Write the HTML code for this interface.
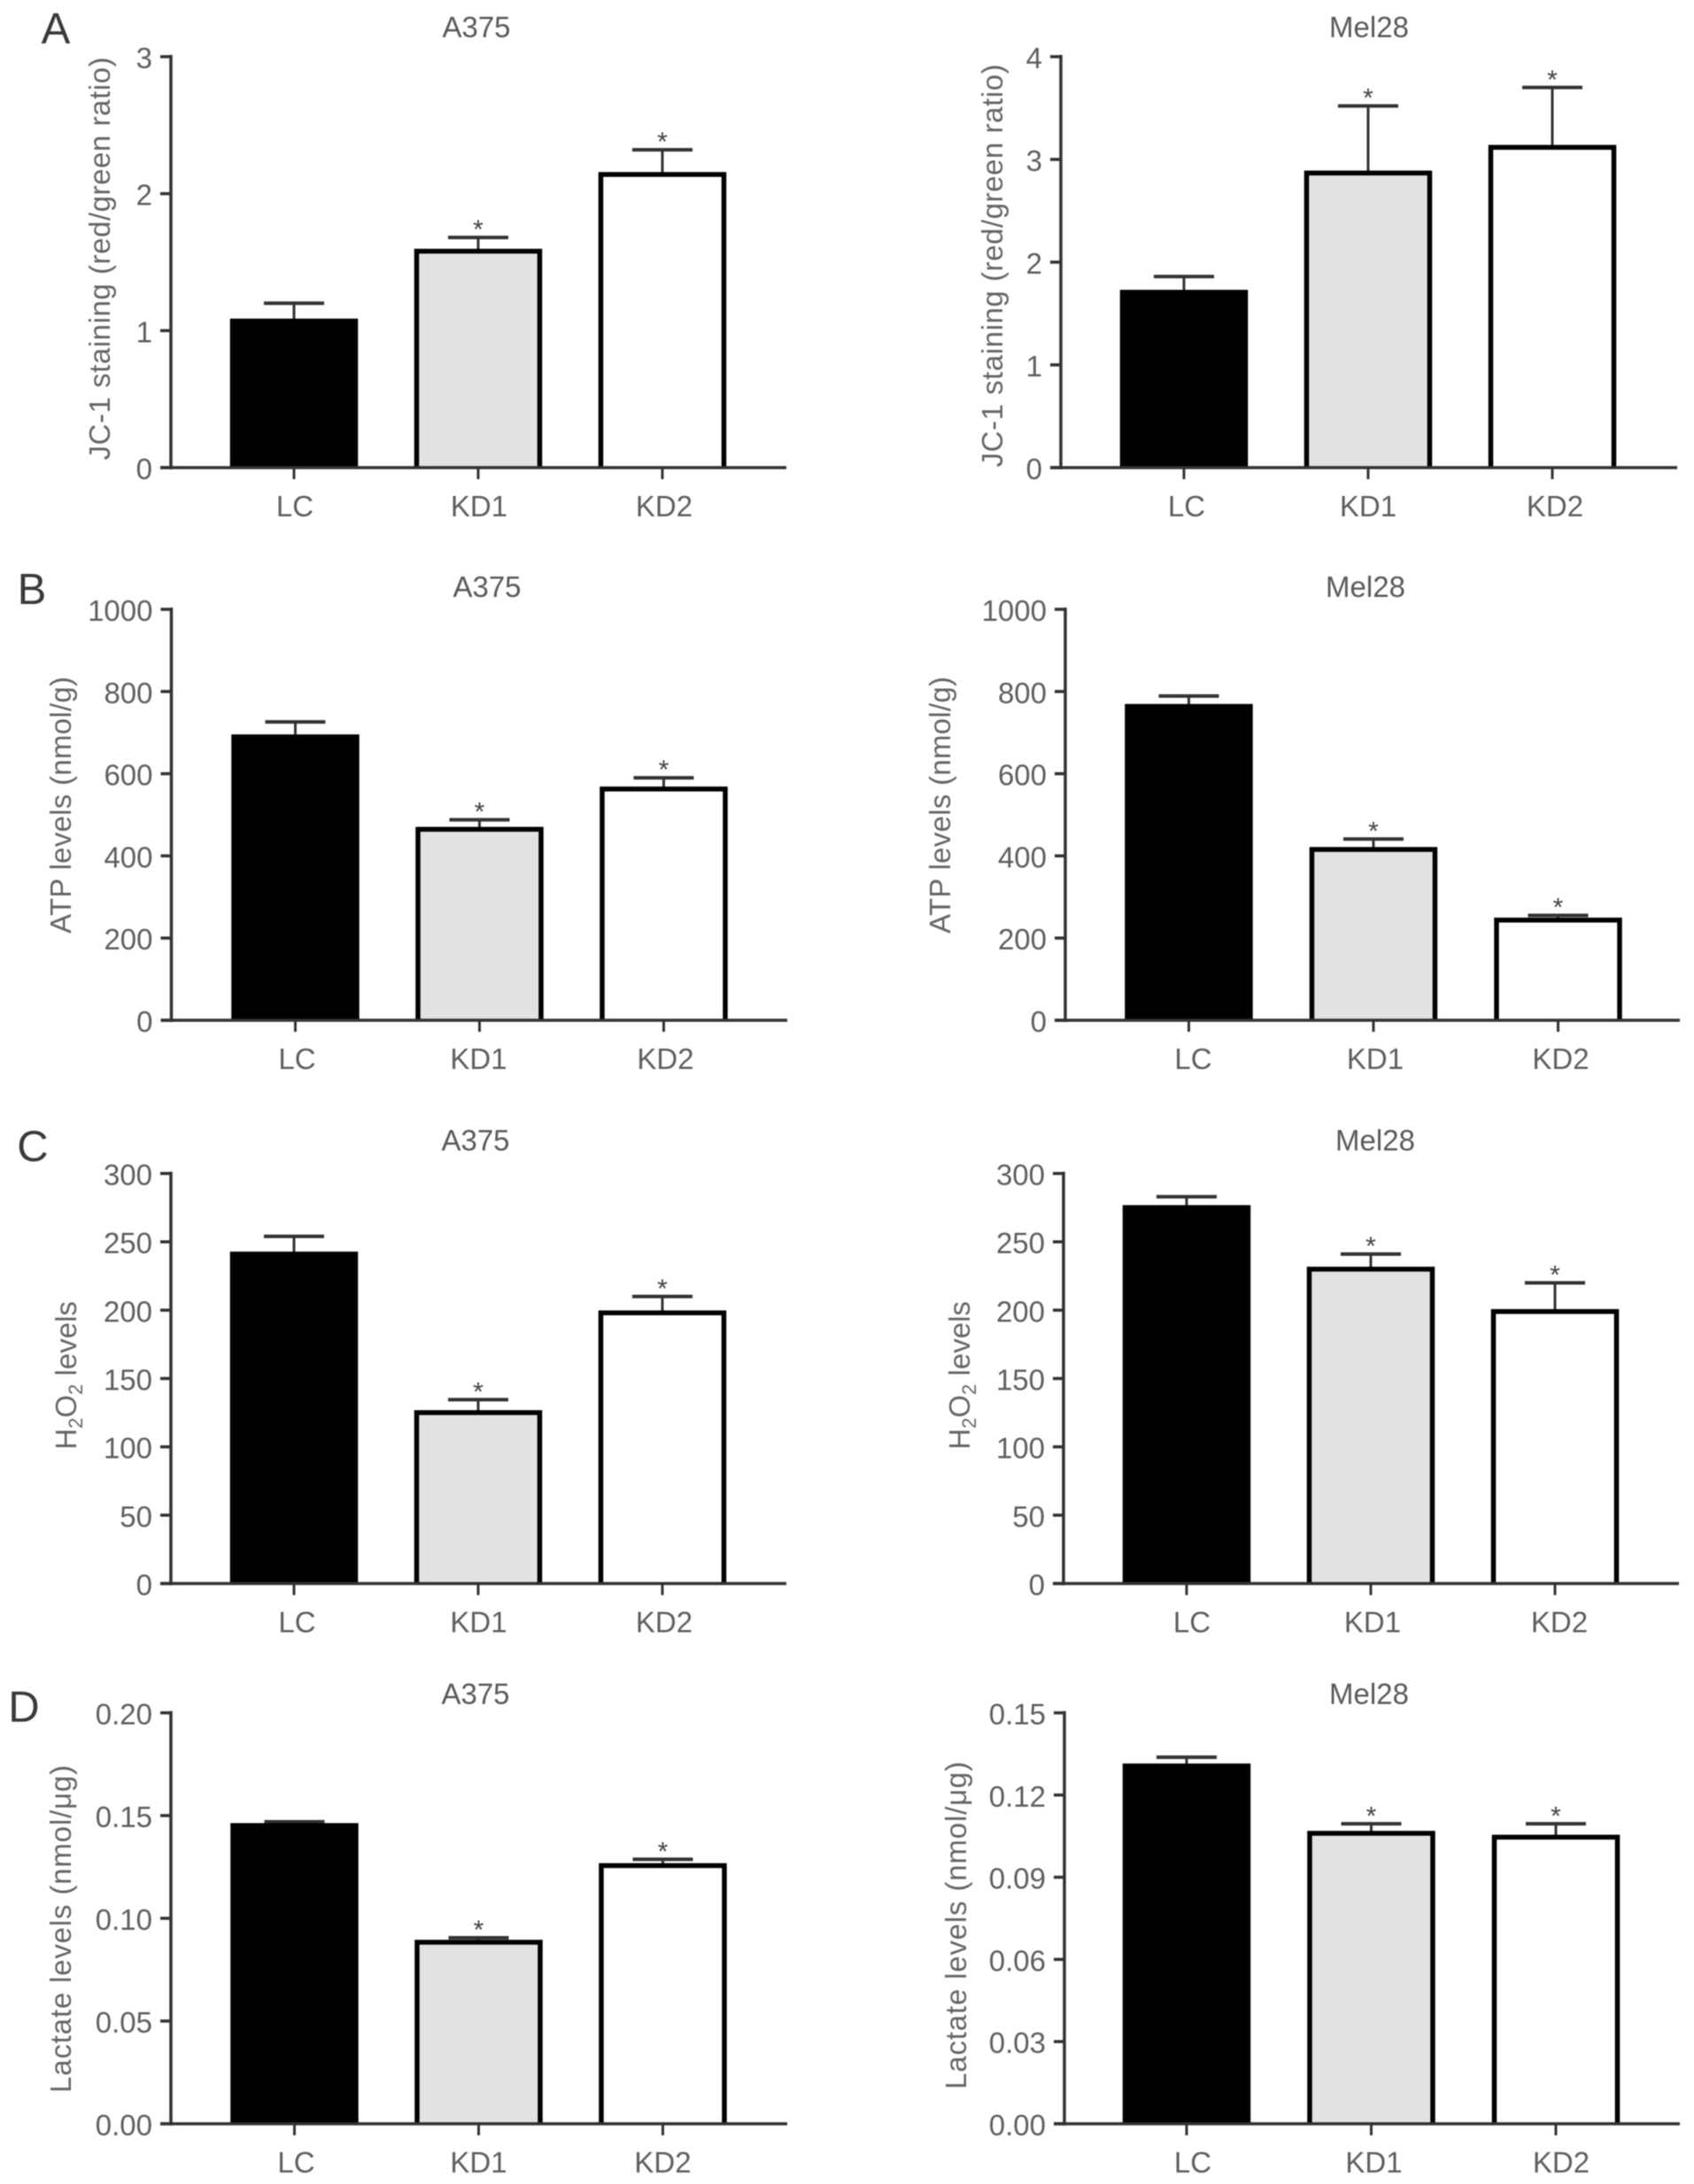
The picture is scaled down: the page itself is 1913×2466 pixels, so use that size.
<!DOCTYPE html>
<html lang="en">
<head>
<meta charset="utf-8">
<title>Mitochondrial and metabolic measurements in A375 and Mel28 cells</title>
<style>
  html, body { margin: 0; padding: 0; background: #fff; }
  #figure { display: block; width: 1913px; height: 2466px; background: #fff; filter: blur(0.6px); }
  text { font-family: "Liberation Sans", sans-serif; fill: #5a5a5a; }
  .panel-letter { font-size: 49px; fill: #3a3a3a; text-anchor: middle; }
  .panel-title { font-size: 33px; fill: #5a5a5a; text-anchor: middle; }
  .y-title { font-size: 33px; fill: #666; text-anchor: middle; }
  .tick-label { font-size: 33px; fill: #5f5f5f; }
  .star { font-size: 30px; fill: #444; text-anchor: middle; }
</style>
</head>
<body>
<svg id="figure" xmlns="http://www.w3.org/2000/svg" width="1913" height="2466" viewBox="0 0 1913 2466">
  <rect x="0" y="0" width="1913" height="2466" fill="#fff"/>

  <text class="panel-letter" x="63" y="49">A</text>
  <text class="panel-letter" x="36" y="682">B</text>
  <text class="panel-letter" x="37" y="1311">C</text>
  <text class="panel-letter" x="27" y="1944">D</text>

  <text class="panel-title" x="538" y="42">A375</text>
  <text class="panel-title" x="1546" y="42">Mel28</text>
  <text class="panel-title" x="550" y="674">A375</text>
  <text class="panel-title" x="1542" y="674">Mel28</text>
  <text class="panel-title" x="537" y="1299">A375</text>
  <text class="panel-title" x="1553" y="1299">Mel28</text>
  <text class="panel-title" x="537" y="1924">A375</text>
  <text class="panel-title" x="1546" y="1924">Mel28</text>

  <text class="y-title" transform="translate(124,292) rotate(-90)" textLength="455" lengthAdjust="spacing">JC-1 staining (red/green ratio)</text>
  <text class="y-title" transform="translate(1132,300) rotate(-90)" textLength="455" lengthAdjust="spacing">JC-1 staining (red/green ratio)</text>
  <text class="y-title" transform="translate(80,909) rotate(-90)" textLength="290" lengthAdjust="spacing">ATP levels (nmol/g)</text>
  <text class="y-title" transform="translate(1073,909) rotate(-90)" textLength="290" lengthAdjust="spacing">ATP levels (nmol/g)</text>
  <text class="y-title" transform="translate(86,1553) rotate(-90)">H<tspan font-size="22" dy="7">2</tspan><tspan dy="-7">O</tspan><tspan font-size="22" dy="7">2</tspan><tspan dy="-7"> levels</tspan></text>
  <text class="y-title" transform="translate(1095,1553) rotate(-90)">H<tspan font-size="22" dy="7">2</tspan><tspan dy="-7">O</tspan><tspan font-size="22" dy="7">2</tspan><tspan dy="-7"> levels</tspan></text>
  <text class="y-title" transform="translate(80,2178) rotate(-90)" textLength="370" lengthAdjust="spacing">Lactate levels (nmol/μg)</text>
  <text class="y-title" transform="translate(1091,2174) rotate(-90)" textLength="370" lengthAdjust="spacing">Lactate levels (nmol/μg)</text>

  <g id="chart-jc1-a375"></g>
  <g id="chart-jc1-mel28"></g>
  <g id="chart-atp-a375"></g>
  <g id="chart-atp-mel28"></g>
  <g id="chart-h2o2-a375"></g>
  <g id="chart-h2o2-mel28"></g>
  <g id="chart-lactate-a375"></g>
  <g id="chart-lactate-mel28"></g>
</svg>

<script>
// Shared categories and significance flags
const categories = ['LC', 'KD1', 'KD2'];
const significant = [false, true, true];

// Panel A: JC-1 staining
const jc1A375Ticks = ['0', '1', '2', '3'];
const jc1A375Means = [1.08, 1.59, 2.15];
const jc1A375Upper = [1.20, 1.68, 2.32];
const jc1Mel28Ticks = ['0', '1', '2', '3', '4'];
const jc1Mel28Means = [1.72, 2.88, 3.13];
const jc1Mel28Upper = [1.86, 3.52, 3.70];

// Panel B: ATP levels
const atpA375Ticks = ['0', '200', '400', '600', '800', '1000'];
const atpA375Means = [693, 468, 566];
const atpA375Upper = [726, 488, 590];
const atpMel28Ticks = ['0', '200', '400', '600', '800', '1000'];
const atpMel28Means = [767, 419, 247];
const atpMel28Upper = [789, 441, 255];

// Panel C: H2O2 levels
const h2o2A375Ticks = ['0', '50', '100', '150', '200', '250', '300'];
const h2o2A375Means = [242, 126, 199];
const h2o2A375Upper = [254, 134.5, 210];
const h2o2Mel28Ticks = ['0', '50', '100', '150', '200', '250', '300'];
const h2o2Mel28Means = [276, 231, 200];
const h2o2Mel28Upper = [283, 241, 220];

// Panel D: Lactate levels
const lactateA375Ticks = ['0.00', '0.05', '0.10', '0.15', '0.20'];
const lactateA375Means = [0.1458, 0.089, 0.1263];
const lactateA375Upper = [0.147, 0.0905, 0.1287];
const lactateMel28Ticks = ['0.00', '0.03', '0.06', '0.09', '0.12', '0.15'];
const lactateMel28Means = [0.1311, 0.1065, 0.1051];
const lactateMel28Upper = [0.1338, 0.1095, 0.1095];

const SVG_NS = 'http://www.w3.org/2000/svg';
const AXIS_COLOR = '#333';
const BAR_FILLS = ['#000000', '#e2e2e2', '#ffffff'];
const BAR_WIDTH = 139;
const BAR_STROKE = 5.5;
const BAR_TOP_INSET = 1.5;

function shape(parent, tag, attrs) {
  const el = document.createElementNS(SVG_NS, tag);
  Object.keys(attrs).forEach(function (k) { el.setAttribute(k, attrs[k]); });
  parent.appendChild(el);
  return el;
}

function drawChart(id, frame, ticks, means, upper) {
  const root = document.getElementById(id);
  const yMax = parseFloat(ticks[ticks.length - 1]);
  const yScale = function (v) { return frame.bottom - (v / yMax) * (frame.bottom - frame.top); };
  const xScale = function (i) { return frame.firstCenter + i * frame.step; };

  categories.forEach(function (cat, i) {
    const key = cat.toLowerCase();
    const cx = xScale(i);
    const stem = shape(root, 'line', { x1: cx, x2: cx, y1: yScale(means[i]), y2: yScale(upper[i]), stroke: AXIS_COLOR, 'stroke-width': 3 });
    
    
    const cap = shape(root, 'line', { x1: cx - 34, x2: cx + 34, y1: yScale(upper[i]), y2: yScale(upper[i]), stroke: AXIS_COLOR, 'stroke-width': 4 });
    
    

    const top = yScale(means[i]) + BAR_TOP_INSET;
    const left = cx - BAR_WIDTH / 2;
    const right = cx + BAR_WIDTH / 2;
    // Open outline: sides and top only; the x-axis closes the bar at its base.
    const bar = shape(root, 'path', {
      d: 'M' + left + ' ' + frame.bottom + ' V' + top + ' H' + right + ' V' + frame.bottom,
      fill: BAR_FILLS[i],
      stroke: '#000',
      'stroke-width': BAR_STROKE
    });
    
    

    if (significant[i]) {
      const star = shape(root, 'text', { class: 'star', x: cx, y: yScale(upper[i]) + 1 });
      star.textContent = '*';
      
      
    }

    const xTick = shape(root, 'line', { x1: cx, x2: cx, y1: frame.bottom, y2: frame.bottom + 13, stroke: AXIS_COLOR, 'stroke-width': 3 });
    
    

    const xLabel = shape(root, 'text', { class: 'tick-label', x: cx + frame.labelDx[i], y: frame.bottom + 55, 'text-anchor': 'middle' });
    xLabel.textContent = cat;
    
    
  });

  ticks.forEach(function (label) {
    const y = yScale(parseFloat(label));
    const tick = shape(root, 'line', { x1: frame.axisX - 12, x2: frame.axisX, y1: y, y2: y, stroke: AXIS_COLOR, 'stroke-width': 3.5 });
    
    
    const text = shape(root, 'text', { class: 'tick-label', x: frame.axisX - 21, y: y + 13, 'text-anchor': 'end' });
    text.textContent = label;
    
    
  });

  const yAxis = shape(root, 'line', { x1: frame.axisX, x2: frame.axisX, y1: frame.top - 2, y2: frame.bottom + 2, stroke: AXIS_COLOR, 'stroke-width': 3.5 });
  
  
  const xAxis = shape(root, 'line', { x1: frame.axisX - 12, x2: frame.xEnd, y1: frame.bottom, y2: frame.bottom, stroke: AXIS_COLOR, 'stroke-width': 3.5 });
  
  
}

drawChart('chart-jc1-a375', { axisX: 193, top: 64, bottom: 528, xEnd: 888, firstCenter: 332, step: 208, labelDx: [1, 1, 2] }, jc1A375Ticks, jc1A375Means, jc1A375Upper);
drawChart('chart-jc1-mel28', { axisX: 1198, top: 64, bottom: 528, xEnd: 1894, firstCenter: 1337, step: 208, labelDx: [3, 0, 3] }, jc1Mel28Ticks, jc1Mel28Means, jc1Mel28Upper);
drawChart('chart-atp-a375', { axisX: 193.5, top: 688, bottom: 1152, xEnd: 889, firstCenter: 333.5, step: 208, labelDx: [2, -1, 2] }, atpA375Ticks, atpA375Means, atpA375Upper);
drawChart('chart-atp-mel28', { axisX: 1203, top: 688, bottom: 1152, xEnd: 1897, firstCenter: 1342.5, step: 208.5, labelDx: [5, 2, 3] }, atpMel28Ticks, atpMel28Means, atpMel28Upper);
drawChart('chart-h2o2-a375', { axisX: 193, top: 1325, bottom: 1788, xEnd: 888, firstCenter: 332, step: 208, labelDx: [3.5, 0.5, 2] }, h2o2A375Ticks, h2o2A375Means, h2o2A375Upper);
drawChart('chart-h2o2-mel28', { axisX: 1201, top: 1325, bottom: 1788, xEnd: 1896, firstCenter: 1340, step: 208, labelDx: [6, 2, 5] }, h2o2Mel28Ticks, h2o2Mel28Means, h2o2Mel28Upper);
drawChart('chart-lactate-a375', { axisX: 193, top: 1934, bottom: 2398, xEnd: 889, firstCenter: 332.5, step: 208, labelDx: [2, 0, 0] }, lactateA375Ticks, lactateA375Means, lactateA375Upper);
drawChart('chart-lactate-mel28', { axisX: 1202, top: 1934, bottom: 2398, xEnd: 1897, firstCenter: 1340, step: 208.5, labelDx: [7, 3, 6] }, lactateMel28Ticks, lactateMel28Means, lactateMel28Upper);
</script>
</body>
</html>
